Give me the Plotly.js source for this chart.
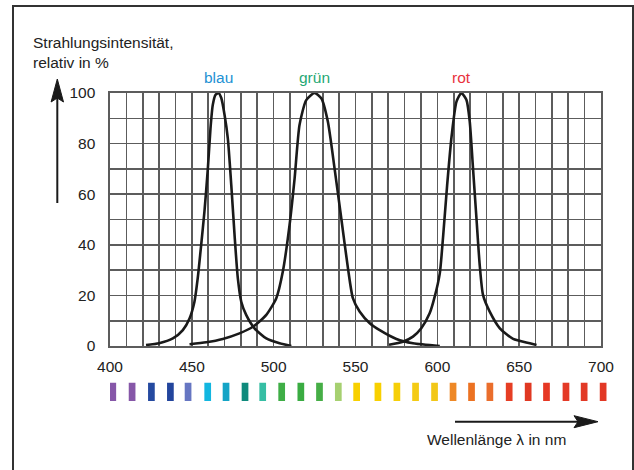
<!DOCTYPE html>
<html>
<head>
<meta charset="utf-8">
<script src="https://cdn.plot.ly/plotly-3.0.1.min.js"></script>
<style>
  html, body { margin: 0; padding: 0; background: #fff; }
  #chart { width: 634px; height: 470px; }
</style>
</head>
<body>
<div id="chart"></div>
<script>
// ---- data ----
const blueNm = [422, 430, 438.4, 444.5, 448.6, 451.6, 453.6, 455.7, 457.7, 459.8, 461.4, 462.8, 464.5, 466.3, 468, 470, 472, 474.1, 476.1, 478.1, 480.2, 483.2, 488.3, 495.5, 503.6, 510.8];
const blueVal = [0.4, 1.1, 3, 6.3, 10.9, 17.5, 26.8, 39.9, 53.1, 70.2, 86, 95.3, 99.3, 100, 98, 91.3, 82, 63.6, 43.9, 26.8, 17.5, 12.3, 7, 3, 1.1, 0];

const greenNm = [448.6, 458.8, 468.9, 479.1, 487.3, 495.5, 501.6, 505.6, 509.7, 512.8, 515.8, 519.9, 525, 529.1, 533.1, 537.2, 541.3, 545.4, 548.4, 552.5, 558.7, 564.8, 575, 585.1, 601.5];
const greenVal = [0.7, 1.5, 2.8, 5, 7.6, 12.3, 18.9, 29.4, 47.8, 66.3, 87.4, 97.2, 100, 97.9, 88.7, 70.2, 50.5, 30.7, 18.9, 13.6, 9, 6.3, 2.8, 1.1, 0];

const redNm = [570.5, 579, 585.1, 590.2, 595.3, 598.4, 601.5, 603.5, 606, 608.8, 611.7, 614.7, 617.8, 619.8, 621.8, 623.9, 625.9, 627.9, 632, 638.2, 646.3, 656.5, 660.6];
const redVal = [0.5, 1.7, 3.7, 7, 12.9, 19.5, 28.7, 43, 63.6, 83.4, 96.6, 100, 97.2, 88.7, 70.2, 50.5, 32, 20.2, 13.6, 7, 2.8, 1.1, 0.4];

const seriesLabels = ['blau', 'grün', 'rot'];
const labelColors = ['#2391d3', '#1fa874', '#e8323c'];
const labelNm = [466.3, 525, 614.7];

const spectrumNm = [401.7, 413.5, 425.3, 436.9, 447.7, 459.7, 470.9, 482.5, 493.3, 504.9, 516.6, 528, 539.5, 550.7, 563.7, 575.3, 586.7, 598.3, 609.6, 620.9, 632.1, 643.9, 655.5, 666.7, 678.6, 689.7, 701.3];
const spectrumHeight = [1, 1, 1, 1, 1, 1, 1, 1, 1, 1, 1, 1, 1, 1, 1, 1, 1, 1, 1, 1, 1, 1, 1, 1, 1, 1, 1];
const spectrumColors = ['#8657a8', '#8657a8', '#254aa0', '#23459d', '#6676c2', '#12b6e0', '#14a4c6', '#0f8a7c', '#36bea4', '#3fae46', '#3aac42', '#46ae46', '#a6d070',
  '#f8d000', '#f8d000', '#f6cf08', '#f4cb14', '#f2c718', '#ee8826', '#ec7222', '#ea6e2c',
  '#e63e24', '#e03822', '#e63824', '#e43a27', '#e23926', '#e23825'];

// grid every 10 nm / 10 %, labels every 50 nm / 20 %
const xGridVals = [400, 410, 420, 430, 440, 450, 460, 470, 480, 490, 500, 510, 520, 530, 540, 550, 560, 570, 580, 590, 600, 610, 620, 630, 640, 650, 660, 670, 680, 690, 700];
const xGridText = ['400', '', '', '', '', '450', '', '', '', '', '500', '', '', '', '', '550', '', '', '', '', '600', '', '', '', '', '650', '', '', '', '', '700'];
const yGridVals = [0, 10, 20, 30, 40, 50, 60, 70, 80, 90, 100];
const yGridText = ['0', '', '20', '', '40', '', '60', '', '80', '', '100'];
const yTitleLines = ['Strahlungsintensität,', 'relativ in %'];
const xTitle = 'Wellenlänge λ in nm';

// ---- layout helpers (pixel -> paper) ----
const W = 634, H = 470;
const M = { l: 110, r: 25, t: 93, b: 69 };
const PW = W - M.l - M.r, PH = H - M.t - M.b;
const mainRightPx = 601;
const PX = p => (p - M.l) / PW;
const PY = p => (H - M.b - p) / PH;
const mainBottomPx = 346;
const barTopPx = 382.5;
const mainXDomainEnd = PX(mainRightPx);
const xMin = 400, xMax = 700;
const x2Max = xMin + (xMax - xMin) / mainXDomainEnd;

const FONT = 'Liberation Sans, Arial, Helvetica, sans-serif';
const gridCol = '#5c5c5c';
const lineCol = '#1a1a1a';

const curveStyle = { color: lineCol, width: 2.6, shape: 'spline', smoothing: 0.6 };
const traces = [
  { x: blueNm, y: blueVal, type: 'scatter', mode: 'lines', line: curveStyle, hoverinfo: 'skip', showlegend: false },
  { x: greenNm, y: greenVal, type: 'scatter', mode: 'lines', line: curveStyle, hoverinfo: 'skip', showlegend: false },
  { x: redNm, y: redVal, type: 'scatter', mode: 'lines', line: curveStyle, hoverinfo: 'skip', showlegend: false },
  { x: spectrumNm, y: spectrumHeight, type: 'bar', width: 4.1, xaxis: 'x2', yaxis: 'y2',
    marker: { color: spectrumColors, line: { width: 0 } }, hoverinfo: 'skip', showlegend: false }
];

const annotations = [];
yTitleLines.forEach((t, i) => {
  annotations.push({ text: t, xref: 'paper', yref: 'paper', x: PX(31), y: PY(43 + i * 19),
    xanchor: 'left', yanchor: 'middle', showarrow: false, font: { family: FONT, size: 15.5, color: '#222' } });
});
seriesLabels.forEach((t, i) => {
  annotations.push({ text: t, xref: 'x', yref: 'paper', x: labelNm[i], y: PY(77),
    xanchor: 'center', yanchor: 'middle', showarrow: false, font: { family: FONT, size: 15.5, color: labelColors[i] } });
});
annotations.push({ text: xTitle, xref: 'paper', yref: 'paper', x: PX(496), y: PY(439),
  xanchor: 'center', yanchor: 'middle', showarrow: false, font: { family: FONT, size: 15.5, color: '#222' } });

const shapes = [
  // outer frame
  { type: 'rect', xref: 'paper', yref: 'paper', x0: PX(13), x1: PX(633), y0: PY(490), y1: PY(6),
    line: { color: '#333', width: 2 }, layer: 'above' },
  // y arrow
  { type: 'line', xref: 'paper', yref: 'paper', x0: PX(57.3), x1: PX(57.3), y0: PY(203), y1: PY(96),
    line: { color: lineCol, width: 2 } },
  { type: 'path', xref: 'paper', yref: 'paper',
    path: `M ${PX(57.3)} ${PY(79)} L ${PX(63.5)} ${PY(102)} L ${PX(57.3)} ${PY(98)} L ${PX(51.1)} ${PY(102)} Z`,
    fillcolor: lineCol, line: { color: lineCol, width: 1 } },
  // x arrow
  { type: 'line', xref: 'paper', yref: 'paper', x0: PX(455), x1: PX(580), y0: PY(421.7), y1: PY(421.7),
    line: { color: lineCol, width: 2 } },
  { type: 'path', xref: 'paper', yref: 'paper',
    path: `M ${PX(598)} ${PY(421.7)} L ${PX(574)} ${PY(415.7)} L ${PX(578)} ${PY(421.7)} L ${PX(574)} ${PY(427.7)} Z`,
    fillcolor: lineCol, line: { color: lineCol, width: 1 } }
];

const layout = {
  width: W, height: H,
  margin: M,
  paper_bgcolor: '#fff', plot_bgcolor: '#fff',
  font: { family: FONT, size: 15.5, color: '#222' },
  showlegend: false,
  xaxis: {
    range: [xMin, xMax], domain: [0, mainXDomainEnd],
    tickmode: 'array', tickvals: xGridVals, ticktext: xGridText, ticks: '', anchor: 'y',
    showgrid: true, gridcolor: gridCol, gridwidth: 1.6,
    showline: true, linecolor: gridCol, linewidth: 1.6, mirror: true,
    zeroline: false, ticklabelstandoff: 6, fixedrange: true,
    tickfont: { family: FONT, size: 15.5, color: '#222' }
  },
  yaxis: {
    range: [0, 100], tickmode: 'array', tickvals: yGridVals, ticktext: yGridText, ticks: '',
    domain: [PY(mainBottomPx), 1], anchor: 'x',
    showgrid: true, gridcolor: gridCol, gridwidth: 1.6,
    showline: true, linecolor: gridCol, linewidth: 1.6, mirror: true,
    zeroline: false, ticklabelstandoff: 10, fixedrange: true,
    tickfont: { family: FONT, size: 15.5, color: '#222' }
  },
  xaxis2: { range: [xMin, x2Max], domain: [0, 1], anchor: 'y2', visible: false, fixedrange: true },
  yaxis2: { range: [0, 1], domain: [0, PY(barTopPx)], anchor: 'x2', visible: false, fixedrange: true },
  annotations: annotations,
  shapes: shapes
};

Plotly.newPlot('chart', traces, layout, { staticPlot: true, displayModeBar: false });
</script>
</body>
</html>
